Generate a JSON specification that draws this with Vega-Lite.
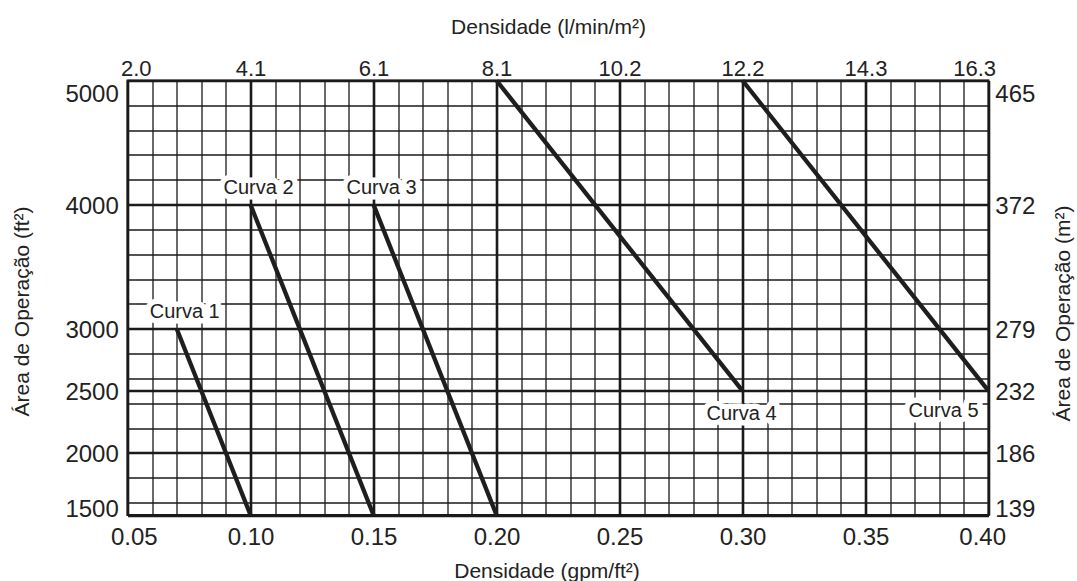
{
  "$schema": "https://vega.github.io/schema/vega-lite/v6.json",
  "width": 861,
  "height": 434.5,
  "autosize": {"type": "none"},
  "padding": {"left": 127.5, "top": 80.5, "right": 88.5, "bottom": 66},
  "background": "white",
  "config": {
    "font": "Liberation Sans",
    "view": {"stroke": "#1a1a1a", "strokeWidth": 2},
    "axis": {
      "labelColor": "#222",
      "titleColor": "#222",
      "titleFontWeight": "normal",
      "titleFontSize": 21,
      "labelFontSize": 24,
      "ticks": false,
      "tickSize": 0,
      "domain": false,
      "labelOverlap": false,
      "labelBound": false
    }
  },
  "datasets": {
    "curvas": [
      {"curva": "Curva 1", "ponto": "inicio", "densidade": 0.07, "area": 3000},
      {"curva": "Curva 1", "ponto": "fim", "densidade": 0.10, "area": 1500},
      {"curva": "Curva 2", "ponto": "inicio", "densidade": 0.10, "area": 4000},
      {"curva": "Curva 2", "ponto": "fim", "densidade": 0.15, "area": 1500},
      {"curva": "Curva 3", "ponto": "inicio", "densidade": 0.15, "area": 4000},
      {"curva": "Curva 3", "ponto": "fim", "densidade": 0.20, "area": 1500},
      {"curva": "Curva 4", "ponto": "inicio", "densidade": 0.20, "area": 5000},
      {"curva": "Curva 4", "ponto": "fim", "densidade": 0.30, "area": 2500},
      {"curva": "Curva 5", "ponto": "inicio", "densidade": 0.30, "area": 5000},
      {"curva": "Curva 5", "ponto": "fim", "densidade": 0.40, "area": 2500}
    ]
  },
  "resolve": {"axis": {"x": "independent", "y": "independent"}},
  "layer": [
    {
      "data": {"name": "curvas"},
      "mark": {"type": "line", "stroke": "#1e1e1e", "strokeWidth": 4.3},
      "encoding": {
        "x": {
          "field": "densidade", "type": "quantitative",
          "scale": {"domain": [0.05, 0.4], "nice": false, "zero": false},
          "axis": {
            "orient": "bottom",
            "zindex": 0,
            "values": [0.05,0.06,0.07,0.08,0.09,0.1,0.11,0.12,0.13,0.14,0.15,0.16,0.17,0.18,0.19,0.2,0.21,0.22,0.23,0.24,0.25,0.26,0.27,0.28,0.29,0.3,0.31,0.32,0.33,0.34,0.35,0.36,0.37,0.38,0.39,0.4],
            "labelExpr": "abs(datum.value*20 - round(datum.value*20)) < 0.001 ? format(datum.value, '.2f') : ''",
            "labelPadding": 10.2,
            "labelFlush": true,
            "labelFlushOffset": 17,
            "grid": true,
            "gridColor": "#1a1a1a",
            "gridOpacity": 1,
            "gridWidth": {"condition": {"test": "abs(datum.value*20 - round(datum.value*20)) < 0.001", "value": 2.6}, "value": 1.3},
            "title": "Densidade (gpm/ft²)",
            "titleX": 419,
            "titleY": 62,
            "titleBaseline": "alphabetic"
          }
        },
        "y": {
          "field": "area", "type": "quantitative",
          "scale": {"domain": [1500, 5000], "nice": false, "zero": false},
          "axis": {
            "orient": "left",
            "zindex": 0,
            "values": [1500,1600,1800,2000,2200,2400,2500,2600,2800,3000,3200,3400,3600,3800,4000,4200,4400,4600,4800,5000],
            "labelExpr": "indexof([1500,2000,2500,3000,4000,5000], datum.value) >= 0 ? format(datum.value, 'd') : ''",
            "labelPadding": 9.2,
            "labelFlush": true,
            "labelOffset": {"condition": {"test": "datum.value == 1500", "value": 6}, "value": 2},
            "grid": true,
            "gridColor": "#1a1a1a",
            "gridOpacity": 1,
            "gridWidth": {"condition": {"test": "indexof([1500,2000,2500,3000,4000,5000], datum.value) >= 0", "value": 2.6}, "value": 1.3},
            "title": "Área de Operação (ft²)",
            "titleAngle": 270,
            "titleX": -98.7,
            "titleY": 230.5,
            "titleBaseline": "alphabetic"
          }
        },
        "detail": {"field": "curva", "type": "nominal"}
      }
    },
    {
      "data": {"name": "curvas"},
      "transform": [{"filter": "indexof(['Curva 1','Curva 2','Curva 3'], datum.curva) >= 0 && datum.ponto == 'inicio'"}],
      "mark": {"type": "text", "fontSize": 20, "align": "center", "baseline": "alphabetic", "dx": 8, "dy": -11, "fill": "white", "stroke": "white", "strokeWidth": 11, "strokeJoin": "round"},
      "encoding": {
        "x": {
          "field": "densidade", "type": "quantitative",
          "scale": {"domain": [0.05, 0.4], "nice": false, "zero": false},
          "axis": {
            "orient": "top",
            "values": [0.05,0.1,0.15,0.2,0.25,0.3,0.35,0.4],
            "labelExpr": "format(datum.value*40.746, '.1f')",
            "labelFontSize": 22,
            "labelPadding": 0.5,
            "labelFlush": true,
            "labelFlushOffset": 7,
            "grid": false,
            "title": "Densidade (l/min/m²)",
            "titleX": 420.5,
            "titleY": -47.2,
            "titleBaseline": "alphabetic"
          }
        },
        "y": {
          "field": "area", "type": "quantitative",
          "scale": {"domain": [1500, 5000], "nice": false, "zero": false},
          "axis": {
            "orient": "right",
            "values": [1500,2000,2500,3000,4000,5000],
            "labelExpr": "format(datum.value*0.092903, '.0f')",
            "labelPadding": 6.3,
            "labelFlush": true,
            "labelOffset": {"condition": {"test": "datum.value == 1500", "value": 6}, "value": 2},
            "grid": false,
            "title": "Área de Operação (m²)",
            "titleAngle": 270,
            "titleX": 81.3,
            "titleY": 232.5,
            "titleBaseline": "alphabetic"
          }
        },
        "text": {"field": "curva", "type": "nominal"}
      }
    },
    {
      "data": {"name": "curvas"},
      "transform": [{"filter": "indexof(['Curva 1','Curva 2','Curva 3'], datum.curva) >= 0 && datum.ponto == 'inicio'"}],
      "mark": {"type": "text", "fontSize": 20, "align": "center", "baseline": "alphabetic", "dx": 8, "dy": -11, "fill": "#222"},
      "encoding": {
        "x": {"field": "densidade", "type": "quantitative", "axis": null},
        "y": {"field": "area", "type": "quantitative", "axis": null},
        "text": {"field": "curva", "type": "nominal"}
      }
    },
    {
      "data": {"name": "curvas"},
      "transform": [{"filter": "datum.curva == 'Curva 4' && datum.ponto == 'fim'"}],
      "mark": {"type": "text", "fontSize": 20, "align": "center", "baseline": "alphabetic", "dx": -1, "dy": 29, "fill": "white", "stroke": "white", "strokeWidth": 11, "strokeJoin": "round"},
      "encoding": {
        "x": {"field": "densidade", "type": "quantitative", "axis": null},
        "y": {"field": "area", "type": "quantitative", "axis": null},
        "text": {"field": "curva", "type": "nominal"}
      }
    },
    {
      "data": {"name": "curvas"},
      "transform": [{"filter": "datum.curva == 'Curva 4' && datum.ponto == 'fim'"}],
      "mark": {"type": "text", "fontSize": 20, "align": "center", "baseline": "alphabetic", "dx": -1, "dy": 29, "fill": "#222"},
      "encoding": {
        "x": {"field": "densidade", "type": "quantitative", "axis": null},
        "y": {"field": "area", "type": "quantitative", "axis": null},
        "text": {"field": "curva", "type": "nominal"}
      }
    },
    {
      "data": {"name": "curvas"},
      "transform": [{"filter": "datum.curva == 'Curva 5' && datum.ponto == 'fim'"}],
      "mark": {"type": "text", "fontSize": 20, "align": "right", "baseline": "alphabetic", "dx": -10, "dy": 26, "fill": "white", "stroke": "white", "strokeWidth": 11, "strokeJoin": "round"},
      "encoding": {
        "x": {"field": "densidade", "type": "quantitative", "axis": null},
        "y": {"field": "area", "type": "quantitative", "axis": null},
        "text": {"field": "curva", "type": "nominal"}
      }
    },
    {
      "data": {"name": "curvas"},
      "transform": [{"filter": "datum.curva == 'Curva 5' && datum.ponto == 'fim'"}],
      "mark": {"type": "text", "fontSize": 20, "align": "right", "baseline": "alphabetic", "dx": -10, "dy": 26, "fill": "#222"},
      "encoding": {
        "x": {"field": "densidade", "type": "quantitative", "axis": null},
        "y": {"field": "area", "type": "quantitative", "axis": null},
        "text": {"field": "curva", "type": "nominal"}
      }
    }
  ]
}
